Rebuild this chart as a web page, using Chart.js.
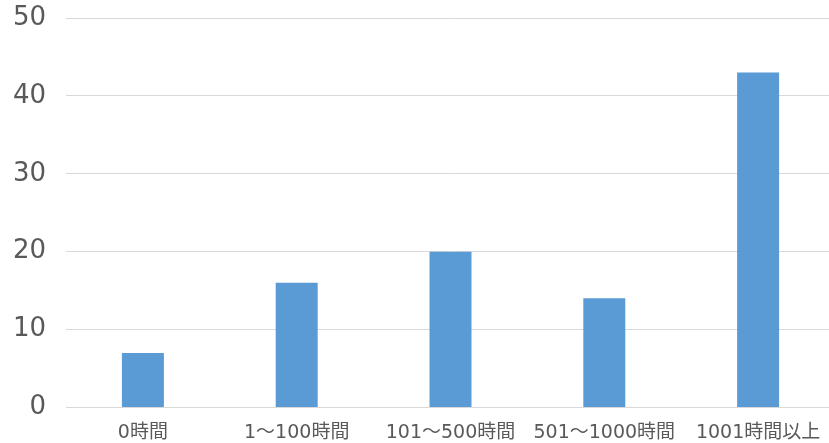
<!DOCTYPE html>
<html>
<head>
<meta charset="utf-8">
<script src="https://cdn.jsdelivr.net/npm/chart.js@4/dist/chart.umd.min.js"></script>
<style>
  html, body { margin: 0; padding: 0; background: #ffffff; overflow: hidden; }
  #wrap { position: absolute; left: 0; top: 0; width: 835px; height: 443px; }
</style>
</head>
<body>
<div id="wrap"><canvas id="chart" width="835" height="443"></canvas></div>
<script>
// Hours categories and the count in each
const categories = ['0時間', '1～100時間', '101～500時間', '501～1000時間', '1001時間以上'];
const counts = [7, 16, 20, 14, 43];
const yTicks = [0, 10, 20, 30, 40, 50];

const fontFamily = '"DejaVu Sans", "Noto Sans CJK JP", sans-serif';

new Chart(document.getElementById('chart'), {
  type: 'bar',
  data: {
    labels: categories,
    datasets: [{
      data: counts,
      backgroundColor: '#5B9BD5',
      borderWidth: 0,
      barPercentage: 0.273,
      categoryPercentage: 1.0
    }]
  },
  options: {
    responsive: false,
    animation: false,
    layout: { padding: { top: 0, right: 0, bottom: 0, left: 0 } },
    plugins: { legend: { display: false }, tooltip: { enabled: false } },
    scales: {
      x: {
        grid: { display: false, drawTicks: false },
        border: { color: '#D9D9D9', width: 1 },
        ticks: {
          color: '#595959',
          font: { family: fontFamily, size: 19 },
          padding: 14,
          maxRotation: 0,
          autoSkip: false
        },
        afterFit(scale) { scale.height = 35; }
      },
      y: {
        min: 0,
        max: 50,
        afterBuildTicks(scale) { scale.ticks = yTicks.map(v => ({ value: v })); },
        grid: { color: '#D9D9D9', lineWidth: 1, drawTicks: false },
        border: { display: false },
        ticks: {
          color: '#595959',
          font: { family: fontFamily, size: 26 },
          padding: 20
        },
        afterFit(scale) {
          scale.width = 66;
          scale.paddingTop = 18;
        }
      }
    }
  }
});
</script>
</body>
</html>
